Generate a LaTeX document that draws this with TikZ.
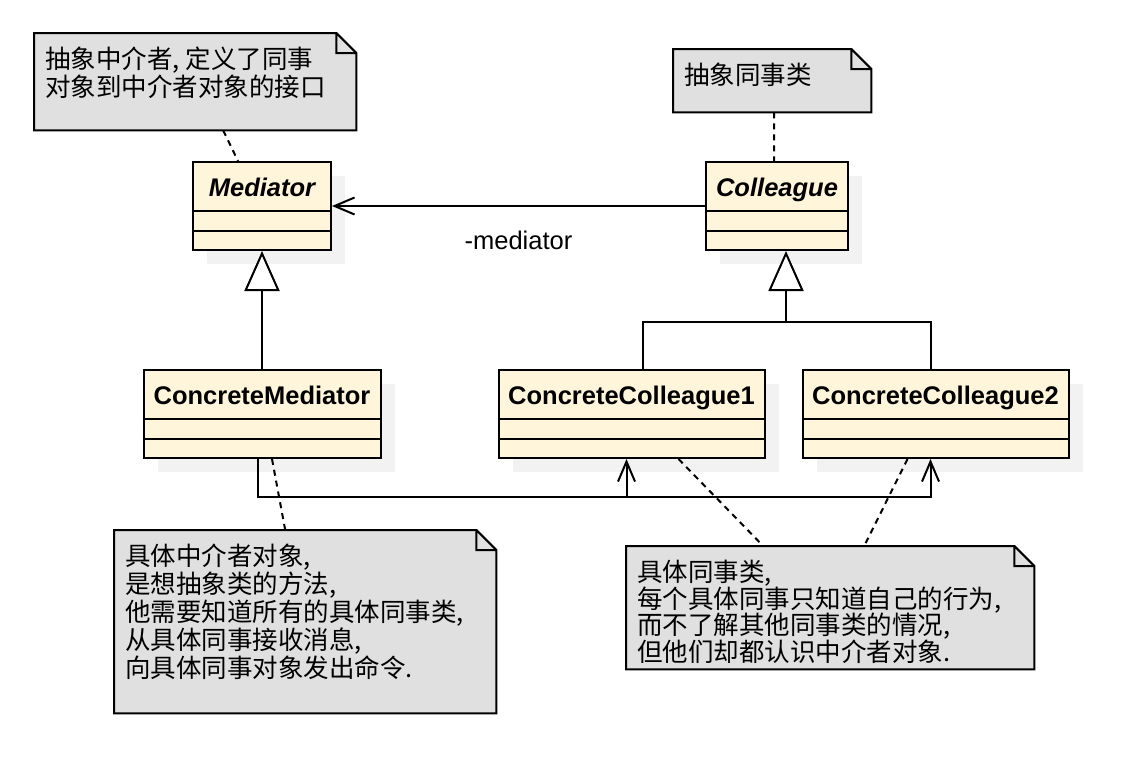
\documentclass[tikz,border=0pt]{standalone}
\usepackage{fontspec}
\setmainfont{Liberation Sans}
\newfontfamily\cjk{Noto Sans CJK SC}
\usetikzlibrary{positioning,arrows.meta,shadows}
\definecolor{clsfill}{HTML}{FFF5DB}
\definecolor{notefill}{HTML}{E0E0E0}
\definecolor{shadowgrey}{HTML}{F2F2F2}

\begin{document}
\begin{tikzpicture}[x=1pt, y=-1pt,
    cls/.style={draw, line width=2pt, fill=clsfill, inner sep=0pt,
      text height=34pt, text depth=54pt,
      font=\fontsize{25.5pt}{30pt}\selectfont\bfseries,
      drop shadow={shadow xshift=14pt, shadow yshift=-14pt, fill=shadowgrey, opacity=1}},
    abstract/.style={font=\fontsize{25.5pt}{30pt}\selectfont\bfseries\itshape},
    note/.style n args={3}{fill=notefill, inner xsep=11pt, inner ysep=14pt, anchor=north west,
      execute at begin node={\begin{minipage}[c][#2][t]{#1}\fontsize{25.5pt}{#3}\selectfont\cjk},
      execute at end node={\end{minipage}}},
    link/.style={line width=2pt},
    assoc/.style={link, -{Straight Barb[length=20pt, width=17pt]}},
    gen/.style={link, -{Triangle[fill=white, length=40pt, width=35pt]}},
    anchorline/.style={link, dash pattern=on 6pt off 5pt}]
  \useasboundingbox (0,0) rectangle (1134,782);

  % classes
  \node[cls, abstract, minimum width=138pt] (med) at (262,206) {Mediator};
  \node[cls, abstract, minimum width=142pt, right=373pt of med] (col) {Colleague};
  \node[cls, minimum width=237pt, below=118pt of med] (cmed) {ConcreteMediator};
  \node[cls, minimum width=266pt, right=116pt of cmed] (cc1) {ConcreteColleague1};
  \node[cls, minimum width=266pt, right=36pt of cc1] (cc2) {ConcreteColleague2};
  \foreach \c in {med,col,cmed,cc1,cc2}
    \draw[link] ([yshift=-50pt]\c.north west) -- ([yshift=-50pt]\c.north east)
      ([yshift=-70pt]\c.north west) -- ([yshift=-70pt]\c.north east);

  % notes
  \node[note={300pt}{69pt}{28pt}] (n1) at (34,33) {抽象中介者, 定义了同事\\对象到中介者对象的接口};
  \node[note={176pt}{35pt}{28pt}] (n2) at (673,49) {抽象同事类};
  \node[note={360pt}{155pt}{28pt}] (n3) at (114,530) {具体中介者对象,\\是想抽象类的方法,\\他需要知道所有的具体同事类,\\从具体同事接收消息,\\向具体同事对象发出命令.};
  \node[note={386pt}{95pt}{26.5pt}] (n4) at (626,546) {具体同事类,\\每个具体同事只知道自己的行为,\\而不了解其他同事类的情况,\\但他们却都认识中介者对象.};
  \foreach \n in {n1,n2,n3,n4} {
    \fill[white] ([xshift=-20pt]\n.north east) -- (\n.north east) -- ([yshift=-20pt]\n.north east) -- cycle;
    \draw[link] (\n.north west) -- ([xshift=-20pt]\n.north east) -- ([yshift=-20pt]\n.north east)
      -- (\n.south east) -- (\n.south west) -- cycle
      ([xshift=-20pt]\n.north east) |- ([yshift=-20pt]\n.north east);
  }

  % relations
  \draw[assoc] (col) -- (med) node[midway, yshift=-34pt, font=\fontsize{25.5pt}{30pt}\selectfont] {-mediator};
  \draw[gen] (cmed) -- (med);
  \coordinate (split) at (786,322);
  \draw[gen] (split) -- (split |- col.south);
  \draw[link] ([xshift=11pt]cc1.north) |- (split) -| ([xshift=-5pt]cc2.north);
  \coordinate (bend) at (258,497);
  \draw[assoc] ([xshift=-4pt]cmed.south) |- (bend) -| ([xshift=-5pt]cc1.south);
  \draw[assoc] (bend) -| ([xshift=-5pt]cc2.south);

  % note links
  \draw[anchorline] ([xshift=28pt]n1.south) -- ([xshift=-24pt]med.north);
  \draw[anchorline] ([xshift=2pt]n2.south) -- ([xshift=-3pt]col.north);
  \draw[anchorline] ([xshift=10pt]cmed.south) -- ([xshift=-20pt]n3.north);
  \draw[anchorline] ([xshift=47pt]cc1.south) -- ([xshift=-67pt]n4.north);
  \draw[anchorline] ([xshift=-28pt]cc2.south) -- ([xshift=34pt]n4.north);
\end{tikzpicture}
\end{document}
